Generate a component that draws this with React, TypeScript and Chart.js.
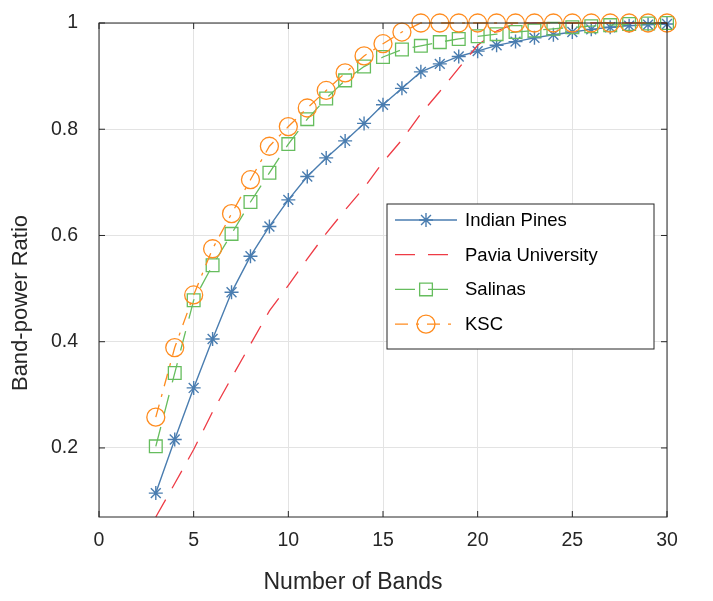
import React, { useEffect, useRef } from 'react';
import { Chart, registerables } from 'chart.js';

Chart.register(...registerables);

// ---- data ----
const bands = [3, 4, 5, 6, 7, 8, 9, 10, 11, 12, 13, 14, 15, 16, 17, 18, 19, 20, 21, 22, 23, 24, 25, 26, 27, 28, 29, 30];
const indianPines = [0.115, 0.216, 0.313, 0.405, 0.493, 0.561, 0.617, 0.667, 0.711, 0.746, 0.778, 0.811, 0.846, 0.877, 0.908, 0.923, 0.937, 0.947, 0.958, 0.965, 0.972, 0.978, 0.983, 0.988, 0.992, 0.995, 0.997, 0.998];
const paviaUniversity = [0.07, 0.133, 0.197, 0.268, 0.332, 0.395, 0.458, 0.506, 0.556, 0.604, 0.648, 0.69, 0.738, 0.78, 0.829, 0.871, 0.915, 0.958, 0.985, 0.999, 1, 1, 1, 1, 1, 1, 1, 1];
const salinas = [0.203, 0.341, 0.478, 0.544, 0.603, 0.663, 0.718, 0.772, 0.819, 0.858, 0.892, 0.918, 0.936, 0.95, 0.957, 0.964, 0.97, 0.975, 0.979, 0.983, 0.986, 0.989, 0.992, 0.994, 0.996, 0.998, 0.999, 1.0];
const ksc = [0.258, 0.389, 0.488, 0.575, 0.641, 0.705, 0.768, 0.805, 0.84, 0.873, 0.906, 0.938, 0.961, 0.983, 1, 1, 1, 1, 1, 1, 1, 1, 1, 1, 1, 1, 1, 1];

const seriesNames = ['Indian Pines', 'Pavia University', 'Salinas', 'KSC'];
const xTickValues = [0, 5, 10, 15, 20, 25, 30];
const yTickValues = [0.2, 0.4, 0.6, 0.8, 1];
const xMin = 0;
const xMax = 30;
const yMin = 0.07;
const yMax = 1;
const xTitle = 'Number of Bands';
const yTitle = 'Band-power Ratio';

const FONT = '"Liberation Sans", Arial, Helvetica, sans-serif';
const AXIS_COLOR = '#262626';

const styles = [
  { color: '#4A7DB0', dash: [] as number[], point: 'star', radius: 7, width: 1.4 },
  { color: '#EE3B45', dash: [20, 13], point: 'circle', radius: 0, width: 1.3 },
  { color: '#66BD5E', dash: [20, 13], point: 'rect', radius: 9, width: 1.3 },
  { color: '#FF8C1F', dash: [13, 8, 3, 8], point: 'circle', radius: 9, width: 1.3 },
];

function drawMarker(ctx: CanvasRenderingContext2D, kind: string, x: number, y: number, r: number) {
  ctx.beginPath();
  if (kind === 'circle') {
    ctx.arc(x, y, r, 0, Math.PI * 2);
  } else if (kind === 'rect') {
    const s = Math.SQRT1_2 * r;
    ctx.rect(x - s, y - s, 2 * s, 2 * s);
  } else if (kind === 'star') {
    ctx.moveTo(x - r, y); ctx.lineTo(x + r, y);
    ctx.moveTo(x, y - r); ctx.lineTo(x, y + r);
    const d = Math.cos(Math.PI / 4) * r;
    ctx.moveTo(x - d, y - d); ctx.lineTo(x + d, y + d);
    ctx.moveTo(x - d, y + d); ctx.lineTo(x + d, y - d);
  }
  ctx.stroke();
}

const framePlugin = {
  id: 'matlabFrame',
  afterDraw(chart: any) {
    const ctx: CanvasRenderingContext2D = chart.ctx;
    const ca = chart.chartArea;
    const xs = chart.scales.x;
    const ys = chart.scales.y;
    ctx.save();
    // box
    ctx.strokeStyle = AXIS_COLOR;
    ctx.lineWidth = 1;
    ctx.setLineDash([]);
    ctx.strokeRect(ca.left, ca.top, ca.right - ca.left, ca.bottom - ca.top);
    // inward ticks
    const tl = 6;
    ctx.beginPath();
    xTickValues.forEach((v) => {
      const px = xs.getPixelForValue(v);
      ctx.moveTo(px, ca.bottom); ctx.lineTo(px, ca.bottom - tl);
      ctx.moveTo(px, ca.top); ctx.lineTo(px, ca.top + tl);
    });
    yTickValues.forEach((v) => {
      const py = ys.getPixelForValue(v);
      ctx.moveTo(ca.left, py); ctx.lineTo(ca.left + tl, py);
      ctx.moveTo(ca.right, py); ctx.lineTo(ca.right - tl, py);
    });
    ctx.stroke();

    // legend
    const lx = ca.left + 288;
    const ly = ca.top + 181;
    const lw = 267;
    const lh = 145;
    ctx.fillStyle = '#ffffff';
    ctx.fillRect(lx, ly, lw, lh);
    ctx.strokeStyle = AXIS_COLOR;
    ctx.lineWidth = 1;
    ctx.strokeRect(lx, ly, lw, lh);
    seriesNames.forEach((name, i) => {
      const st = styles[i];
      const cy = ly + 16 + i * 34.7;
      ctx.strokeStyle = st.color;
      ctx.lineWidth = st.width;
      ctx.setLineDash(st.dash);
      ctx.beginPath();
      ctx.moveTo(lx + 8, cy);
      ctx.lineTo(lx + 70, cy);
      ctx.stroke();
      ctx.setLineDash([]);
      if (st.radius > 0) drawMarker(ctx, st.point, lx + 39, cy, st.radius);
      ctx.fillStyle = '#000000';
      ctx.font = `18.5px ${FONT}`;
      ctx.textAlign = 'left';
      ctx.textBaseline = 'middle';
      ctx.fillText(name, lx + 78, cy + 1);
    });

    // axis titles
    ctx.fillStyle = AXIS_COLOR;
    ctx.font = `23px ${FONT}`;
    ctx.textAlign = 'center';
    ctx.textBaseline = 'alphabetic';
    ctx.fillText(xTitle, ca.left + 254, ca.bottom + 71.5);
    ctx.save();
    ctx.translate(26.7, ca.top + 280);
    ctx.rotate(-Math.PI / 2);
    ctx.font = `22px ${FONT}`;
    ctx.fillText(yTitle, 0, 0);
    ctx.restore();
    ctx.restore();
  },
};

export default function App() {
  const ref = useRef<HTMLCanvasElement>(null);
  useEffect(() => {
    const canvas = ref.current;
    if (!canvas) return;
    const series = [indianPines, paviaUniversity, salinas, ksc];
    const datasets = series.map((vals, i) => {
      const st = styles[i];
      return {
        label: seriesNames[i],
        data: vals.map((v, j) => ({ x: bands[j], y: v })),
        borderColor: st.color,
        borderWidth: st.width,
        borderDash: st.dash,
        backgroundColor: 'rgba(0,0,0,0)',
        pointStyle: st.point,
        pointRadius: st.radius,
        pointBorderColor: st.color,
        pointBackgroundColor: 'rgba(0,0,0,0)',
        pointBorderWidth: st.width,
        pointHoverRadius: st.radius,
        tension: 0,
        fill: false,
        clip: false,
        order: 3 - i,
      };
    });
    const chart = new Chart(canvas, {
      type: 'line',
      data: { datasets } as any,
      options: {
        animation: false,
        responsive: false,
        maintainAspectRatio: false,
        layout: { padding: { top: 23, right: 46, left: 0, bottom: 0 } },
        plugins: { legend: { display: false }, tooltip: { enabled: false } },
        events: [],
        scales: {
          x: {
            type: 'linear',
            min: xMin,
            max: xMax,
            afterBuildTicks: (s: any) => { s.ticks = xTickValues.map((v) => ({ value: v })); },
            afterFit: (s: any) => { s.height = 84; s.paddingLeft = 0; s.paddingRight = 0; },
            grid: { color: '#E3E3E3', lineWidth: 1, drawTicks: false },
            border: { display: false },
            ticks: {
              color: AXIS_COLOR,
              font: { family: FONT, size: 19.5 },
              padding: 12,
              maxRotation: 0,
              autoSkip: false,
              callback: (v: any) => String(v),
            },
          },
          y: {
            type: 'linear',
            min: yMin,
            max: yMax,
            afterBuildTicks: (s: any) => { s.ticks = yTickValues.map((v) => ({ value: v })); },
            afterFit: (s: any) => { s.width = 99; s.paddingTop = 0; s.paddingBottom = 0; },
            grid: { color: '#E3E3E3', lineWidth: 1, drawTicks: false },
            border: { display: false },
            ticks: {
              color: AXIS_COLOR,
              font: { family: FONT, size: 19.5 },
              padding: 21,
              autoSkip: false,
              callback: (v: any) => String(v),
            },
          },
        },
      } as any,
      plugins: [framePlugin],
    });
    return () => chart.destroy();
  }, []);
  return (
    <div style={{ position: 'absolute', left: 0, top: 0, width: 713, height: 601, background: '#ffffff' }}>
      <canvas ref={ref} width={713} height={601} style={{ width: 713, height: 601, display: 'block' }} />
    </div>
  );
}
